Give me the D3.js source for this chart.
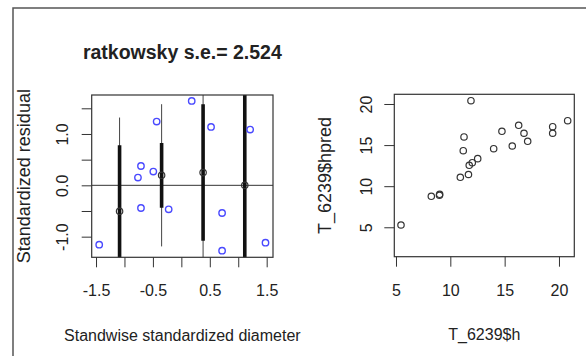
<!DOCTYPE html>
<html>
<head>
<meta charset="utf-8">
<script src="https://cdn.jsdelivr.net/npm/d3@7"></script>
<style>
  body { margin: 0; background: #fff; }
  text { font-family: "Liberation Sans", Arial, sans-serif; fill: #222; }
</style>
</head>
<body>
<svg id="chart" width="586" height="356"></svg>
<script>
// left panel: standardized residuals vs standardized diameter
var residX = [-1.444, -0.763, -0.71, -0.71, -0.493, -0.434, -0.223, 0.182, 0.522, 0.716, 0.716, 1.209, 1.479];
var residY = [-1.156, 0.15, 0.376, -0.442, 0.267, 1.241, -0.468, 1.644, 1.137, -0.539, -1.273, 1.086, -1.117];
// group means with inner (thick) and outer (thin) half-widths
var groupX = [-1.086, -0.347, 0.382, 1.115];
var groupMean = [-0.507, 0.195, 0.248, 0.0];
var groupInner = [1.287, 0.63, 1.33, 2.0];
var groupOuter = [1.827, 1.385, 2.6, 3.0];
var leftXTicks = [-1.5, -1, -0.5, 0, 0.5, 1, 1.5];
var leftXLabels = [-1.5, -0.5, 0.5, 1.5];
var leftYTicks = [-1, -0.5, 0, 0.5, 1, 1.5];
var leftYLabels = [-1, 0, 1];

// right panel: predicted vs observed height
var hObs = [5.46, 8.25, 9.02, 9.0, 10.92, 11.67, 11.19, 11.26, 11.74, 12.02, 11.9, 12.52, 13.99, 14.75, 15.7, 16.29, 16.78, 17.12, 19.42, 19.42, 20.8];
var hPred = [5.28, 8.77, 9.01, 8.89, 11.08, 11.42, 14.32, 15.99, 12.54, 12.86, 20.4, 13.35, 14.56, 16.68, 14.89, 17.41, 16.44, 15.46, 17.24, 16.44, 17.97];
var rightXTicks = [5, 10, 15, 20];
var rightYTicks = [5, 10, 15, 20];

var svg = d3.select("#chart");

// outer frame (top and left edge)
svg.append("path")
  .attr("d", "M13,356V8H586")
  .attr("fill", "none")
  .attr("stroke", "#555")
  .attr("stroke-width", 1.5);

var L = { left: 91.7, right: 273, top: 95, bottom: 257.3 };
var R = { left: 394.3, right: 574.3, top: 94.3, bottom: 256.7 };

var xL = d3.scaleLinear().domain([-1.576, 1.611]).range([L.left, L.right]);
var yL = d3.scaleLinear().domain([-1.402, 1.759]).range([L.bottom, L.top]);
var xR = d3.scaleLinear().domain([4.844, 21.41]).range([R.left, R.right]);
var yR = d3.scaleLinear().domain([1.42, 21.18]).range([R.bottom, R.top]);

function styleAxis(g) {
  g.select(".domain").remove();
  g.selectAll(".tick line").attr("stroke", "#333").attr("stroke-width", 1);
  g.selectAll(".tick text").attr("font-size", 16).attr("fill", "#222");
}

// ---- left panel ----
svg.append("clipPath").attr("id", "clipL")
  .append("rect")
  .attr("x", L.left).attr("y", L.top)
  .attr("width", L.right - L.left).attr("height", L.bottom - L.top);

var gl = svg.append("g").attr("clip-path", "url(#clipL)");

gl.append("line")
  .attr("x1", L.left).attr("x2", L.right)
  .attr("y1", yL(0)).attr("y2", yL(0))
  .attr("stroke", "#333").attr("stroke-width", 1);

groupX.forEach(function(gx, i) {
  gl.append("line")
    .attr("x1", xL(gx)).attr("x2", xL(gx))
    .attr("y1", yL(groupMean[i] + groupOuter[i]))
    .attr("y2", yL(groupMean[i] - groupOuter[i]))
    .attr("stroke", "#444").attr("stroke-width", 1);
  gl.append("line")
    .attr("x1", xL(gx)).attr("x2", xL(gx))
    .attr("y1", yL(groupMean[i] + groupInner[i]))
    .attr("y2", yL(groupMean[i] - groupInner[i]))
    .attr("stroke", "#111").attr("stroke-width", 3.6);
  gl.append("circle")
    .attr("cx", xL(gx)).attr("cy", yL(groupMean[i]))
    .attr("r", 3.2)
    .attr("fill", "none").attr("stroke", "#333").attr("stroke-width", 1.2);
});

gl.selectAll(".res")
  .data(residX)
  .enter()
  .append("circle")
  .attr("cx", function(d) { return xL(d); })
  .attr("cy", function(d, i) { return yL(residY[i]); })
  .attr("r", 3.2)
  .attr("fill", "none")
  .attr("stroke", "#4a4aff")
  .attr("stroke-width", 1.4);

svg.append("rect")
  .attr("x", L.left).attr("y", L.top)
  .attr("width", L.right - L.left).attr("height", L.bottom - L.top)
  .attr("fill", "none").attr("stroke", "#333").attr("stroke-width", 1.2);

svg.append("g")
  .attr("transform", "translate(0," + L.bottom + ")")
  .call(d3.axisBottom(xL).tickValues(leftXTicks).tickSize(10).tickPadding(0)
    .tickFormat(function(d) { return leftXLabels.indexOf(d) >= 0 ? d.toFixed(1) : ""; }))
  .call(styleAxis)
  .selectAll(".tick text").attr("y", 39.2).attr("dy", 0);

svg.append("g")
  .attr("transform", "translate(" + L.left + ",0)")
  .call(d3.axisLeft(yL).tickValues(leftYTicks).tickSize(10)
    .tickFormat(function(d) { return leftYLabels.indexOf(d) >= 0 ? d.toFixed(1) : ""; }))
  .call(styleAxis)
  .selectAll(".tick text")
  .attr("x", 0).attr("y", -23.5).attr("dy", 0)
  .attr("text-anchor", "middle")
  .attr("transform", "rotate(-90)");

svg.append("text")
  .attr("x", (L.left + L.right) / 2).attr("y", 58.5)
  .attr("text-anchor", "middle")
  .attr("font-size", 19.5).attr("font-weight", "bold")
  .text("ratkowsky s.e.= 2.524");

svg.append("text")
  .attr("x", (L.left + L.right) / 2).attr("y", 341)
  .attr("text-anchor", "middle")
  .attr("font-size", 16)
  .text("Standwise standardized diameter");

svg.append("text")
  .attr("transform", "translate(30," + (L.top + L.bottom) / 2 + ") rotate(-90)")
  .attr("text-anchor", "middle")
  .attr("font-size", 18)
  .text("Standardized residual");

// ---- right panel ----
svg.selectAll(".hp")
  .data(hObs)
  .enter()
  .append("circle")
  .attr("cx", function(d) { return xR(d); })
  .attr("cy", function(d, i) { return yR(hPred[i]); })
  .attr("r", 3.2)
  .attr("fill", "none")
  .attr("stroke", "#333")
  .attr("stroke-width", 1.2);

svg.append("rect")
  .attr("x", R.left).attr("y", R.top)
  .attr("width", R.right - R.left).attr("height", R.bottom - R.top)
  .attr("fill", "none").attr("stroke", "#333").attr("stroke-width", 1.2);

svg.append("g")
  .attr("transform", "translate(0," + R.bottom + ")")
  .call(d3.axisBottom(xR).tickValues(rightXTicks).tickSize(10).tickFormat(d3.format("d")))
  .call(styleAxis)
  .selectAll(".tick text").attr("y", 39.5).attr("dy", 0);

svg.append("g")
  .attr("transform", "translate(" + R.left + ",0)")
  .call(d3.axisLeft(yR).tickValues(rightYTicks).tickSize(10).tickFormat(d3.format("d")))
  .call(styleAxis)
  .selectAll(".tick text")
  .attr("x", 0).attr("y", -22.5).attr("dy", 0)
  .attr("text-anchor", "middle")
  .attr("transform", "rotate(-90)");

svg.append("text")
  .attr("x", (R.left + R.right) / 2).attr("y", 340)
  .attr("text-anchor", "middle")
  .attr("font-size", 16)
  .text("T_6239$h");

svg.append("text")
  .attr("transform", "translate(331," + (R.top + R.bottom) / 2 + ") rotate(-90)")
  .attr("text-anchor", "middle")
  .attr("font-size", 18)
  .text("T_6239$hpred");
</script>
</body>
</html>
